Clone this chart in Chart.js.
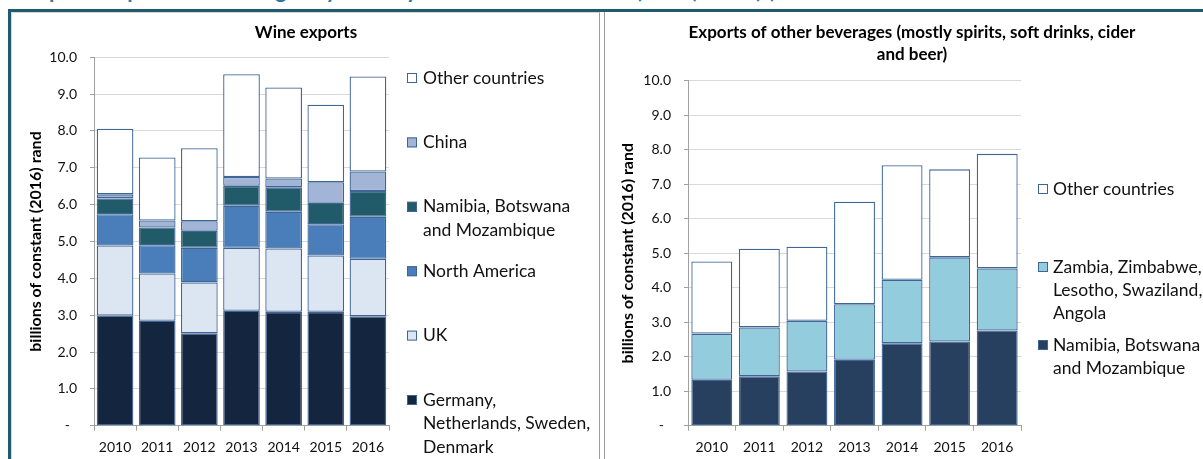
<!DOCTYPE html>
<html>
<head>
<meta charset="utf-8">
<script src="https://cdn.jsdelivr.net/npm/chart.js@4/dist/chart.umd.min.js"></script>
<style>
  html, body { margin: 0; padding: 0; background: #fff; overflow: hidden; width: 1203px; height: 459px; }
  #heading { position: absolute; left: 14px; top: -21px; font: bold 22px Lato, sans-serif; line-height: 22px;
             color: #2C7A9A; white-space: nowrap; }
  #frameTop { position: absolute; left: 8px; top: 9px; width: 1195px; height: 3px; background: #215A6C; }
  #frameLeft { position: absolute; left: 8px; top: 9px; width: 3px; height: 450px; background: #215A6C; }
  #leftPanel { position: absolute; left: 11px; top: 12px; width: 589px; height: 447px;
               border-left: 1px solid #d6d6d6; border-top: 1px solid #d6d6d6; border-right: 1px solid #9c9c9c; box-sizing: border-box; }
  #rightPanel { position: absolute; left: 604px; top: 12px; width: 620px; height: 447px;
                border-left: 1px solid #9c9c9c; box-sizing: border-box; }
  canvas { position: absolute; }
  #wine { left: 12px; top: 13px; }
  #other { left: 606px; top: 13px; }
</style>
</head>
<body>
<div id="heading">Graph 7: Exports of beverages by country in billions of constant (2016) rand (a)</div>
<div id="frameTop"></div>
<div id="frameLeft"></div>
<div id="leftPanel"></div>
<div id="rightPanel"></div>
<canvas id="wine" width="588" height="446"></canvas>
<canvas id="other" width="612" height="446"></canvas>
<script>
// ---- data (billions of constant 2016 rand) ----
const years = ['2010', '2011', '2012', '2013', '2014', '2015', '2016'];
const yTickLabels = ['-', '1.0', '2.0', '3.0', '4.0', '5.0', '6.0', '7.0', '8.0', '9.0', '10.0'];

// wine exports, stacked bottom to top
const wineGermanyNlSeDk = [2.99, 2.85, 2.51, 3.12, 3.09, 3.09, 2.97];
const wineUK            = [1.90, 1.28, 1.38, 1.71, 1.72, 1.53, 1.56];
const wineNorthAmerica  = [0.85, 0.77, 0.94, 1.14, 1.00, 0.85, 1.14];
const wineNamBotMoz     = [0.43, 0.48, 0.46, 0.54, 0.66, 0.58, 0.70];
const wineChina         = [0.11, 0.19, 0.26, 0.24, 0.24, 0.56, 0.53];
const wineOther         = [1.78, 1.71, 1.98, 2.79, 2.47, 2.10, 2.58];

// other beverages, stacked bottom to top
const bevNamBotMoz  = [1.33, 1.43, 1.57, 1.91, 2.39, 2.44, 2.76];
const bevZamZimLesSwaAng = [1.34, 1.42, 1.47, 1.61, 1.84, 2.44, 1.80];
const bevOther      = [2.09, 2.28, 2.15, 2.97, 3.32, 2.55, 3.32];

// series names, split into the lines shown beside the bars
const wineNames = [
  ['Germany,', 'Netherlands, Sweden,', 'Denmark'],
  ['UK'],
  ['North America'],
  ['Namibia, Botswana', 'and Mozambique'],
  ['China'],
  ['Other countries']
];
const bevNames = [
  ['Namibia, Botswana', 'and Mozambique'],
  ['Zambia, Zimbabwe,', 'Lesotho, Swaziland,', 'Angola'],
  ['Other countries']
];
const wineTitle = 'Wine exports';
const bevTitle = ['Exports of other beverages (mostly spirits, soft drinks, cider', 'and beer)'];
const yTitle = 'billions of constant (2016) rand';

// ---- styling ----
const FONT = 'Lato, "Open Sans", sans-serif';
const EDGE = '#3F6597';
const wineColors = ['#14253F', '#DCE6F2', '#4A7EBB', '#215A69', '#A3B5D6', '#FFFFFF'];
const bevColors = ['#27405F', '#93CDDD', '#FFFFFF'];

// Legend drawn in its own layout box to the right of the plot
function sideLegend(width, o) {
  return {
    id: 'sideLegend',
    beforeInit(chart) {
      const box = {
        position: 'right', weight: 0, fullSize: false, options: {},
        isHorizontal() { return false; },
        update(maxW, maxH) { this.width = width; this.height = maxH; },
        draw() {
          const ctx = chart.ctx;
          const sets = chart.data.datasets;
          ctx.save();
          ctx.font = o.fontSize + 'px ' + FONT;
          ctx.textBaseline = 'middle';
          ctx.textAlign = 'left';
          for (let k = 0; k < sets.length; k++) {
            const ds = sets[sets.length - 1 - k];
            const yc = o.firstY + k * o.step;
            const bx = this.left + o.boxX;
            ctx.fillStyle = ds.backgroundColor;
            ctx.fillRect(bx, yc - 5, 10, 10);
            ctx.strokeStyle = EDGE;
            ctx.lineWidth = 1;
            ctx.strokeRect(bx + 0.5, yc - 4.5, 9, 9);
            ctx.fillStyle = '#111';
            ds.lines.forEach((t, i) => ctx.fillText(t, this.left + o.textX, yc + i * o.lineGap));
          }
          ctx.restore();
        }
      };
      Chart.layouts.addBox(chart, box);
    }
  };
}

function buildChart(id, cfg) {
  const datasets = cfg.series.map((data, i) => ({
    label: cfg.names[i].join(' '),
    lines: cfg.names[i],
    data: data,
    backgroundColor: cfg.colors[i]
  }));
  const tickFont = { family: FONT, size: 14 };
  return new Chart(document.getElementById(id), {
    type: 'bar',
    data: { labels: years, datasets: datasets },
    options: {
      responsive: false,
      animation: false,
      layout: { padding: 0 },
      datasets: {
        bar: { categoryPercentage: 1, barPercentage: cfg.barPct, borderWidth: 1.3, borderColor: EDGE, borderSkipped: false }
      },
      plugins: {
        legend: { display: false },
        tooltip: { enabled: false },
        title: {
          display: true, text: cfg.title, color: '#000',
          font: { family: FONT, size: 17, weight: 'bold', lineHeight: cfg.titleLH },
          padding: cfg.titlePad
        }
      },
      scales: {
        x: {
          stacked: true,
          grid: { display: true, drawOnChartArea: false, offset: true, tickLength: 5, color: '#A0A0A0' },
          border: { color: '#A0A0A0' },
          ticks: { color: '#111', font: tickFont, padding: 8 },
          afterFit(s) { s.height = 33.3; }
        },
        y: {
          stacked: true, min: 0, max: 10,
          grid: { color: '#D9D9D9', tickColor: '#A0A0A0', tickLength: 4 },
          border: { color: '#A0A0A0' },
          ticks: {
            stepSize: 1, autoSkip: false, color: '#111', font: tickFont, padding: 13,
            callback: (v, i) => i === 0 ? yTickLabels[0] + '  ' : yTickLabels[i]
          },
          title: {
            display: true, text: yTitle, color: '#000',
            font: { family: FONT, size: 16, weight: 'bold' },
            padding: { top: cfg.yTitlePad, bottom: 0 }
          },
          afterFit(s) { s.width = 82; }
        }
      }
    },
    plugins: [sideLegend(cfg.legendWidth, cfg.legend)]
  });
}

buildChart('wine', {
  series: [wineGermanyNlSeDk, wineUK, wineNorthAmerica, wineNamBotMoz, wineChina, wineOther],
  names: wineNames,
  colors: wineColors,
  title: wineTitle,
  titleLH: 1.2,
  titlePad: { top: 9.8, bottom: 14.1 },
  yTitlePad: 14.4,
  barPct: 0.87,
  legendWidth: 211,
  legend: { fontSize: 17.5, firstY: 65, step: 64.4, boxX: 18, textX: 34, lineGap: 23.5 }
});

buildChart('other', {
  series: [bevNamBotMoz, bevZamZimLesSwaAng, bevOther],
  names: bevNames,
  colors: bevColors,
  title: bevTitle,
  titleLH: 22 / 17,
  titlePad: { top: 9, bottom: 14.7 },
  yTitlePad: 12.4,
  barPct: 0.86,
  legendWidth: 197,
  legend: { fontSize: 17.5, firstY: 176, step: 78, boxX: 17, textX: 32, lineGap: 23 }
});
</script>
</body>
</html>
